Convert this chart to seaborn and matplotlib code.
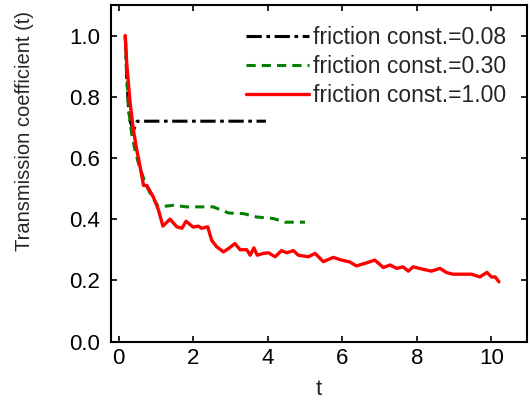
import numpy as np
import pandas as pd
import matplotlib
matplotlib.use("Agg")
import matplotlib.pyplot as plt
import seaborn as sns

# friction const. = 0.08
t_008 = [0.18, 0.22, 0.27, 0.31, 0.40, 0.50, 1.0, 2.0, 3.0, 3.95]
y_008 = [1.00, 0.86, 0.76, 0.72, 0.69, 0.72, 0.72, 0.72, 0.72, 0.72]

# friction const. = 0.30
t_030 = [0.18, 0.22, 0.27, 0.35, 0.45, 0.54, 0.72, 0.85, 1.07, 1.47, 1.83, 2.19, 2.54,
         2.72, 2.95, 3.35, 3.70, 4.15, 4.46, 5.0]
y_030 = [1.00, 0.88, 0.76, 0.68, 0.62, 0.58, 0.516, 0.484, 0.44, 0.445, 0.44, 0.44, 0.44,
         0.431, 0.42, 0.418, 0.407, 0.402, 0.39, 0.39]

# friction const. = 1.00
t_100 = [0.18, 0.22, 0.31, 0.40, 0.49, 0.58, 0.67, 0.76, 0.94, 1.07, 1.19, 1.38, 1.56,
         1.70, 1.81, 2.00, 2.14, 2.23, 2.39, 2.50, 2.63, 2.81, 2.95, 3.12, 3.26, 3.44,
         3.53, 3.63, 3.72, 3.88, 4.02, 4.20, 4.37, 4.51, 4.69, 4.82, 5.09, 5.27, 5.49,
         5.76, 5.98, 6.20, 6.38, 6.65, 6.87, 7.10, 7.28, 7.46, 7.63, 7.77, 7.90, 8.17,
         8.39, 8.62, 8.80, 8.97, 9.24, 9.46, 9.69, 9.88, 10.00, 10.10, 10.20]
y_100 = [1.00, 0.908, 0.78, 0.69, 0.625, 0.57, 0.51, 0.51, 0.47, 0.43, 0.377, 0.40, 0.375,
         0.37, 0.393, 0.374, 0.377, 0.37, 0.375, 0.33, 0.31, 0.293, 0.304, 0.32, 0.30, 0.30,
         0.282, 0.306, 0.282, 0.288, 0.29, 0.277, 0.297, 0.29, 0.297, 0.282, 0.277, 0.288, 0.261,
         0.275, 0.266, 0.26, 0.247, 0.257, 0.266, 0.242, 0.25, 0.239, 0.244, 0.23, 0.244, 0.236,
         0.23, 0.239, 0.225, 0.22, 0.22, 0.22, 0.211, 0.226, 0.211, 0.211, 0.195]

labels = ["friction const.=0.08", "friction const.=0.30", "friction const.=1.00"]

sns.set_style("ticks")
plt.rcParams['font.family'] = ['Liberation Sans', 'DejaVu Sans']

fig = plt.figure(figsize=(5.29, 4.09), dpi=100)
ax = fig.add_axes([0.21, 0.165, 0.786, 0.823])

sns.lineplot(x=t_008, y=y_008, ax=ax, color="black", lw=2.2,
             linestyle=(0, (5, 1.5, 1.2, 1.5)), label=labels[0], sort=False)
sns.lineplot(x=t_030, y=y_030, ax=ax, color="#008000", lw=2.2,
             linestyle=(0, (3.0, 2.0)), label=labels[1], sort=False)
sns.lineplot(x=t_100, y=y_100, ax=ax, color="#ff0000", lw=2.4,
             linestyle="-", label=labels[2], sort=False)

ax.set_xlim(-0.2, 10.95)
ax.set_ylim(0, 1.1)
ax.set_xticks([0, 2, 4, 6, 8, 10])
ax.set_yticks([0.0, 0.2, 0.4, 0.6, 0.8, 1.0])
ax.set_yticklabels(["0.0", "0.2", "0.4", "0.6", "0.8", "1.0"])
ax.tick_params(direction="in", top=True, right=True, length=4.5, width=1.2,
               labelsize=16, colors="black")
ax.tick_params(axis="x", pad=5)
ax.tick_params(axis="y", pad=8)
for s in ax.spines.values():
    s.set_linewidth(1.5)
    s.set_color("black")
    s.set_visible(True)
ax.set_xlabel("t", fontsize=16, labelpad=7)
ax.set_ylabel("Transmission coefficient (t)", fontsize=14.5)
ax.yaxis.set_label_coords(-0.185, 0.625)

leg = ax.legend(loc="upper right", frameon=False, fontsize=16.5, handlelength=2.75,
                handletextpad=0.2, labelspacing=0.27, borderaxespad=0.5)

fig.savefig("out.png", dpi=100)
